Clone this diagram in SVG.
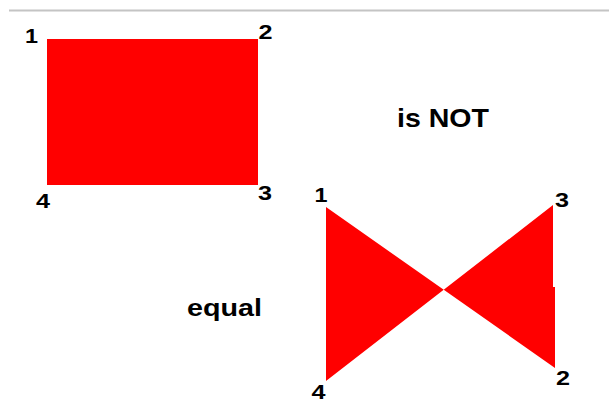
<svg xmlns="http://www.w3.org/2000/svg" width="609" height="402" viewBox="0 0 609 402">
<style>
.lbl{font-family:"Liberation Sans",Arial,sans-serif;font-weight:bold;font-size:20px;fill:#000}
.big{font-family:"Liberation Sans",Arial,sans-serif;font-weight:bold;fill:#000}
.shape{fill:#ff0000}
</style>
<rect width="609" height="402" fill="#ffffff"/>
<line x1="9" y1="10.5" x2="609" y2="10.5" stroke="#c4c4c4" stroke-width="2"/>
<g id="rectangle">
<rect class="shape" x="47" y="39" width="211" height="146"/>
<text class="lbl" x="25" y="43" textLength="13" lengthAdjust="spacingAndGlyphs">1</text>
<text class="lbl" x="258.5" y="39" textLength="14" lengthAdjust="spacingAndGlyphs">2</text>
<text class="lbl" x="258" y="200" textLength="14" lengthAdjust="spacingAndGlyphs">3</text>
<text class="lbl" x="36" y="208" textLength="14" lengthAdjust="spacingAndGlyphs">4</text>
</g>
<g id="bowtie">
<polygon class="shape" points="326,207 555,368 555,287 553,287 553,205 326,381"/>
<text class="lbl" x="314.5" y="202" textLength="13" lengthAdjust="spacingAndGlyphs">1</text>
<text class="lbl" x="555" y="207" textLength="14" lengthAdjust="spacingAndGlyphs">3</text>
<text class="lbl" x="556" y="385" textLength="14" lengthAdjust="spacingAndGlyphs">2</text>
<text class="lbl" x="311.5" y="399" textLength="14" lengthAdjust="spacingAndGlyphs">4</text>
</g>
<g id="is-not">
<text class="big" x="397" y="127" font-size="26" textLength="92" lengthAdjust="spacingAndGlyphs">is NOT</text>
</g>
<g id="equal">
<text class="big" x="187" y="316" font-size="24" textLength="75" lengthAdjust="spacingAndGlyphs">equal</text>
</g>
</svg>
